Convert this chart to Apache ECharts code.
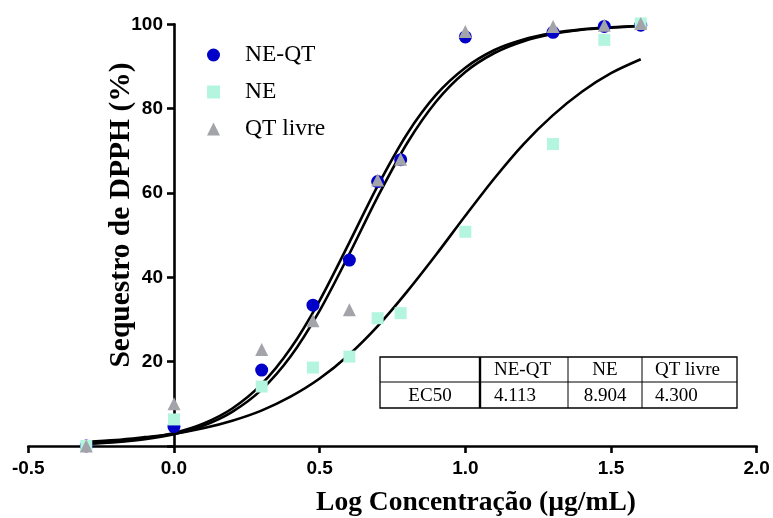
<!DOCTYPE html>
<html>
<head>
<meta charset="utf-8">
<script src="https://cdn.jsdelivr.net/npm/echarts@6/dist/echarts.min.js"></script>
<style>
  html, body { margin: 0; padding: 0; background: #ffffff; }
  #chart { width: 773px; height: 518px; }
</style>
</head>
<body>
<div id="chart"></div>
<script>
// Log10 of concentration (µg/mL) for each measured point
const logConc = [-0.301, 0, 0.301, 0.477, 0.602, 0.699, 0.778, 1.0, 1.301, 1.477, 1.602];

// DPPH scavenging (%) per formulation
const neQT   = [0.0, 4.6, 18.0, 33.4, 44.1, 62.7, 67.9, 97.0, 98.1, 99.5, 99.8];
const ne     = [0.0, 6.3, 14.1, 18.6, 21.2, 30.3, 31.5, 50.8, 71.6, 96.3, 100.2];
const qtLivre = [0.0, 10.0, 22.9, 29.7, 32.3, 63.1, 68.0, 98.3, 99.5, 99.8, 100.2];

// Fitted dose-response curves, sampled along log concentration
const fitX      = [-0.301, -0.2, -0.1, 0, 0.1, 0.2, 0.3, 0.4, 0.5, 0.6, 0.7, 0.8, 0.9, 1.0, 1.1, 1.2, 1.3, 1.4, 1.5, 1.602];
const fitNEQT   = [0.6, 1.0, 1.8, 3.1, 5.3, 8.9, 14.6, 23.1, 34.5, 48.0, 61.8, 74.0, 83.3, 89.7, 93.9, 96.4, 97.9, 98.8, 99.3, 99.6];
const fitNE     = [1.0, 1.4, 2.1, 2.9, 4.2, 6.0, 8.4, 11.7, 16.0, 21.6, 28.5, 36.6, 45.4, 54.6, 63.5, 71.6, 78.4, 84.0, 88.4, 91.7];
const fitQT     = [0.5, 0.9, 1.6, 2.8, 4.8, 8.1, 13.3, 21.2, 32.1, 45.3, 59.2, 71.8, 81.7, 88.7, 93.2, 96.0, 97.7, 98.7, 99.2, 99.6];

// EC50 summary table
const tableHeader = ['', 'NE-QT', 'NE', 'QT livre'];
const tableRowLabel = 'EC50';
const ec50Values = ['4.113', '8.904', '4.300'];

// Axis ticks
const xTicks = { min: -0.5, max: 2.0, step: 0.5 };
const yTicks = { min: 0, max: 100, step: 20 };

const seriesNames = ['NE-QT', 'NE', 'QT livre'];
const colors = { neqt: '#0000c8', ne: '#b3f5df', qt: '#a3a3aa' };

const zip = (xs, ys) => xs.map((x, i) => [x, ys[i]]);

const W = 773;
const gridBox = { left: 28.3, right: 16.3, top: 24.3, bottom: 72 };
// the value axis sits on x = 0, so shift it inside the plot by that fraction of the width
const yAxisShift = -((0 - xTicks.min) / (xTicks.max - xTicks.min)) * (W - gridBox.left - gridBox.right);

const chart = echarts.init(document.getElementById('chart'), null, { renderer: 'canvas' });

const fitLine = (name, data) => ({
  name: name,
  type: 'line',
  data: zip(fitX, data),
  smooth: 0.3,
  showSymbol: false,
  symbol: 'none',
  silent: true,
  z: 2,
  lineStyle: { color: '#000', width: 2.6 }
});

const scatter = (name, data, symbol, size, color, z) => ({
  name: name,
  type: 'scatter',
  data: zip(logConc, data),
  symbol: symbol,
  symbolSize: size,
  clip: false,
  z: z,
  itemStyle: { color: color, opacity: 1 }
});

// Table geometry
const tbl = { x0: 380, x1: 737, y0: 357, ym: 382, y1: 408, cols: [480, 568, 642] };
const serif = '"Liberation Serif", "Times New Roman", serif';
const tableText = (text, x, y, align) => ({
  type: 'text', x: x, y: y, silent: true, z: 12,
  style: { text: text, fill: '#000', font: '19px ' + serif, align: align, verticalAlign: 'middle' }
});
const hRow = (tbl.y0 + tbl.ym) / 2 + 1;
const vRow = (tbl.ym + tbl.y1) / 2 + 1;
const tableLine = (x1, y1, x2, y2, w) => ({
  type: 'line', silent: true, z: 11,
  shape: { x1: x1, y1: y1, x2: x2, y2: y2 },
  style: { stroke: '#000', lineWidth: w }
});

const graphics = [
  // axis titles
  {
    type: 'text', x: 476, y: 503, silent: true,
    style: { text: 'Log Concentração (µg/mL)', fill: '#000',
      font: 'bold 27.5px ' + serif, align: 'center', verticalAlign: 'middle' }
  },
  {
    type: 'text', x: 121, y: 215, rotation: Math.PI / 2, silent: true,
    style: { text: 'Sequestro de DPPH (%)', fill: '#000',
      font: 'bold 29.5px ' + serif, align: 'center', verticalAlign: 'middle' }
  },
  // table frame
  { type: 'rect', silent: true, z: 10,
    shape: { x: tbl.x0, y: tbl.y0, width: tbl.x1 - tbl.x0, height: tbl.y1 - tbl.y0 },
    style: { fill: '#fff', stroke: '#000', lineWidth: 1.3 } },
  tableLine(tbl.x0, tbl.ym, tbl.x1, tbl.ym, 1),
  tableLine(tbl.cols[0], tbl.y0, tbl.cols[0], tbl.y1, 2.4),
  tableLine(tbl.cols[1], tbl.y0, tbl.cols[1], tbl.y1, 1),
  tableLine(tbl.cols[2], tbl.y0, tbl.cols[2], tbl.y1, 1),
  // table text
  tableText(tableHeader[1], tbl.cols[0] + 14, hRow, 'left'),
  tableText(tableHeader[2], (tbl.cols[1] + tbl.cols[2]) / 2, hRow, 'center'),
  tableText(tableHeader[3], tbl.cols[2] + 13, hRow, 'left'),
  tableText(tableRowLabel, (tbl.x0 + tbl.cols[0]) / 2, vRow, 'center'),
  tableText(ec50Values[0], tbl.cols[0] + 14, vRow, 'left'),
  tableText(ec50Values[1], (tbl.cols[1] + tbl.cols[2]) / 2, vRow, 'center'),
  tableText(ec50Values[2], tbl.cols[2] + 13, vRow, 'left')
];

const axisFont = { color: '#000', fontFamily: '"Liberation Sans", Arial, sans-serif', fontWeight: 'bold', fontSize: 19 };

chart.setOption({
  animation: false,
  backgroundColor: '#fff',
  grid: Object.assign({ containLabel: false, outerBoundsMode: 'none' }, gridBox),
  legend: {
    data: seriesNames,
    orient: 'vertical',
    left: 207,
    top: 43,
    padding: 0,
    itemWidth: 13,
    itemHeight: 13,
    itemGap: 13,
    selectedMode: false,
    textStyle: { color: '#000', fontFamily: serif, fontSize: 23.5, lineHeight: 24, padding: [0, 0, 0, 20] }
  },
  xAxis: {
    type: 'value',
    min: xTicks.min, max: xTicks.max, interval: xTicks.step,
    axisLine: { onZero: true, lineStyle: { color: '#000', width: 2.6 } },
    axisTick: { length: 7, lineStyle: { color: '#000', width: 2.6 } },
    axisLabel: Object.assign({ margin: 13, formatter: v => v.toFixed(1) }, axisFont),
    splitLine: { show: false }
  },
  yAxis: {
    type: 'value',
    position: 'left',
    offset: yAxisShift,
    min: yTicks.min, max: yTicks.max, interval: yTicks.step,
    axisLine: { onZero: false, lineStyle: { color: '#000', width: 2.6 } },
    axisTick: { length: 7, lineStyle: { color: '#000', width: 2.6 } },
    axisLabel: Object.assign({ margin: 11, formatter: v => (v === 0 ? '' : String(v)) }, axisFont),
    splitLine: { show: false }
  },
  series: [
    fitLine('Ajuste NE-QT', fitNEQT),
    fitLine('Ajuste NE', fitNE),
    fitLine('Ajuste QT livre', fitQT),
    scatter(seriesNames[0], neQT, 'circle', 13, colors.neqt, 3),
    scatter(seriesNames[1], ne, 'rect', 12, colors.ne, 4),
    scatter(seriesNames[2], qtLivre, 'triangle', 13, colors.qt, 5)
  ],
  graphic: graphics
});
</script>
</body>
</html>
